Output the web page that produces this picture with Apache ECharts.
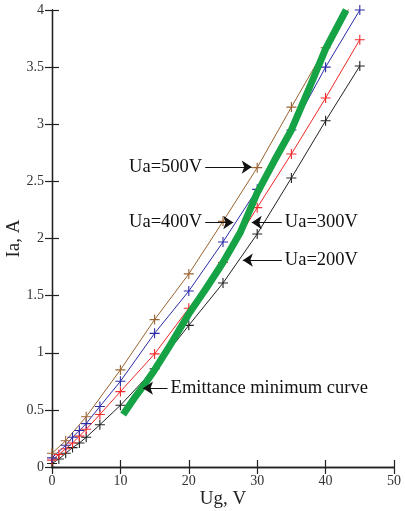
<!DOCTYPE html>
<html><head><meta charset="utf-8">
<script src="https://cdn.jsdelivr.net/npm/echarts@6/dist/echarts.min.js"></script>
<style>html,body{margin:0;padding:0;background:#fff}#c{width:405px;height:511px}</style>
</head><body><div id="c"></div>
<script>
// Ug values (V) and anode current Ia (A) for each anode voltage
const ug200 = [0, 1, 2, 3, 4, 5, 7, 10, 15, 20, 25, 30, 35, 40, 45];
const ia200 = [0.03, 0.07, 0.12, 0.17, 0.21, 0.26, 0.37, 0.54, 0.86, 1.24, 1.61, 2.04, 2.53, 3.03, 3.51];
const ug300 = [0, 1, 2, 3, 4, 5, 7, 10, 15, 20, 25, 30, 35, 40, 45];
const ia300 = [0.06, 0.11, 0.16, 0.21, 0.27, 0.33, 0.46, 0.66, 0.99, 1.39, 1.79, 2.27, 2.74, 3.23, 3.74];
const ug400 = [0, 2, 3, 4, 5, 7, 10, 15, 20, 25, 30, 35, 40, 45];
const ia400 = [0.08, 0.19, 0.26, 0.32, 0.38, 0.53, 0.75, 1.17, 1.54, 1.97, 2.43, 2.95, 3.50, 4.00];
const ug500 = [0, 2, 5, 10, 15, 20, 25, 30, 35, 40, 45];
const ia500 = [0.12, 0.23, 0.44, 0.85, 1.29, 1.69, 2.15, 2.62, 3.15, 3.67, 4.17];
const ugEmit = [10.4, 12, 13.5, 15, 17, 20, 22.5, 25, 27.5, 30, 32.5, 35, 37.5, 40, 43];
const iaEmit = [0.46, 0.6, 0.72, 0.85, 1.04, 1.34, 1.56, 1.79, 2.05, 2.4, 2.68, 2.95, 3.3, 3.66, 4.0];
const xTicks = [0, 10, 20, 30, 40, 50];
const yTicks = [0, 0.5, 1, 1.5, 2, 2.5, 3, 3.5, 4];
// annotations: [label, fromX, toX, y]
const notes = [
  ['Ua=500V', 22.4, 29.2, 2.625],
  ['Ua=400V', 22.4, 26.5, 2.14],
  ['Ua=300V', 33.6, 29.2, 2.14],
  ['Ua=200V', 33.6, 27.9, 1.81],
  ['Emittance minimum curve', 16.9, 13.3, 0.69]
];

const font = 'Liberation Serif';
const zip = (a, b) => a.map((v, i) => [v, b[i]]);
const plus = 'path://M0,4.45H10V5.55H0ZM4.45,0H5.55V10H4.45Z';
function curve(name, xs, ys, color) {
  return {
    name, type: 'line', data: zip(xs, ys), symbol: plus, symbolSize: 10,
    showSymbol: true, clip: true,
    lineStyle: { color, width: 1 }, itemStyle: { color }, z: 3
  };
}
const axisBase = {
  axisLine: { show: true, lineStyle: { color: '#222', width: 1.3 } },
  axisTick: { show: true, inside: true, length: 7, lineStyle: { color: '#222', width: 1.2 } },
  splitLine: { show: false }
};
const chart = echarts.init(document.getElementById('c'), null, { renderer: 'canvas' });
chart.setOption({
  animation: false,
  backgroundColor: '#fff',
  grid: { left: 52, right: 11, top: 10, bottom: 44, containLabel: false, outerBoundsMode: 'none' },
  xAxis: [
    Object.assign({}, axisBase, {
      type: 'value', min: xTicks[0], max: xTicks[xTicks.length - 1], interval: 10, position: 'bottom',
      name: 'Ug, V', nameLocation: 'middle', nameGap: 23, nameMoveOverlap: false,
      nameTextStyle: { fontFamily: font, fontSize: 19, color: '#222' },
      axisLabel: { fontFamily: font, fontSize: 14, color: '#333', margin: 7 }
    }),
    Object.assign({}, axisBase, {
      type: 'value', min: 0, max: 50, interval: 10, position: 'top', axisLabel: { show: false }
    })
  ],
  yAxis: [
    Object.assign({}, axisBase, {
      type: 'value', min: yTicks[0], max: yTicks[yTicks.length - 1], interval: 0.5, position: 'left',
      name: 'Ia, A', nameLocation: 'middle', nameGap: 28, nameRotate: 90, nameMoveOverlap: false,
      nameTextStyle: { fontFamily: font, fontSize: 19, color: '#222' },
      axisLabel: { fontFamily: font, fontSize: 14, color: '#333', margin: 8 }
    }),
    Object.assign({}, axisBase, {
      type: 'value', min: 0, max: 4, interval: 0.5, position: 'right', axisLabel: { show: false }
    })
  ],
  series: [
    curve('200V', ug200, ia200, '#222222'),
    curve('300V', ug300, ia300, '#f02828'),
    curve('400V', ug400, ia400, '#2b2ba8'),
    curve('500V', ug500, ia500, '#9a6230'),
    {
      name: 'Emittance', type: 'line', data: zip(ugEmit, iaEmit), showSymbol: false, symbol: 'none',
      lineStyle: { color: '#15a345', width: 7, cap: 'butt' }, z: 4, clip: true
    },
    {
      type: 'line', data: [], z: 5,
      markLine: {
        silent: true, animation: false, symbol: ['none', 'arrow'], symbolSize: 10,
        itemStyle: { color: '#111' },
        lineStyle: { color: '#111', width: 1, type: 'solid' },
        label: { show: true, position: 'start', distance: 3, fontFamily: font, fontSize: 18.5, color: '#111',
          formatter: p => p.name },
        data: notes.map(n => [
          { name: n[0], coord: [n[1], n[3]] },
          { coord: [n[2], n[3]] }
        ])
      }
    }
  ]
});
</script></body></html>
